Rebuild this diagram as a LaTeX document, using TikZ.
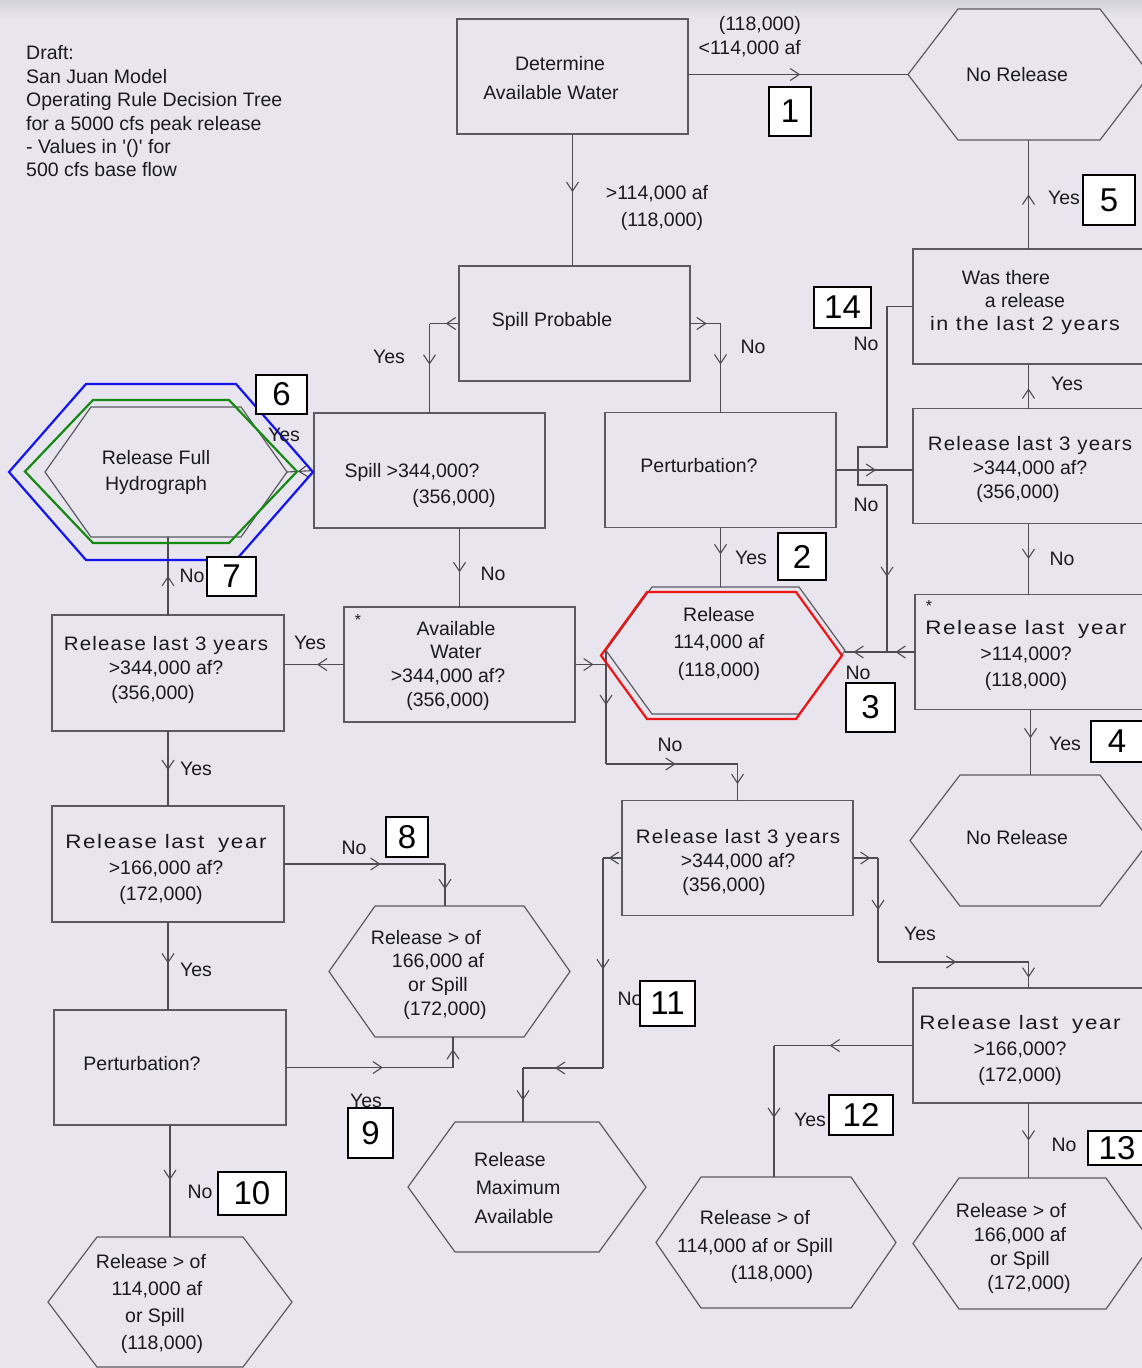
\documentclass[tikz,border=0pt]{standalone}
\usepackage{fontspec}
\setmainfont{Liberation Sans}
\newfontfamily\wideA[FakeStretch=1.05,LetterSpace=6]{Liberation Sans}
\newfontfamily\wideB[FakeStretch=1.15,LetterSpace=8]{Liberation Sans}
\newfontfamily\wideC[FakeStretch=1.1,LetterSpace=8]{Liberation Sans}
\usetikzlibrary{arrows.meta,decorations.markings,calc}

\definecolor{bgc}{HTML}{E8E5EE}
\definecolor{topc}{HTML}{D4D2DB}
\definecolor{linec}{HTML}{4C4C52}
\definecolor{boxc}{HTML}{5A5A60}
\definecolor{txtc}{HTML}{1A1A1E}
\definecolor{hblue}{HTML}{1414F0}
\definecolor{hgreen}{HTML}{148A14}
\definecolor{hred}{HTML}{F01414}

\tikzset{
  conn/.style={draw=linec, line width=1.1pt},
  mk/.style={postaction={decorate,decoration={markings,mark=at position #1 with {\arrow{Straight Barb[length=9pt,width=12pt]}}}}},
  box/.style={draw=boxc, line width=1.4pt, fill=bgc, minimum width=231pt, minimum height=115pt, inner sep=0pt, outer sep=0pt},
  hexnode/.style 2 args={minimum width=#1, minimum height=#2, inner sep=0pt, outer sep=0pt},
  hexline/.style={draw=boxc, line width=1.2pt, fill=bgc},
  txt/.style={text=txtc, align=center, inner sep=0pt, font=\fontsize{19.5}{24}\selectfont},
  lab/.style={text=txtc, inner sep=0pt, font=\fontsize{19.5}{24}\selectfont},
  numbox/.style={draw=black, line width=1.8pt, fill=white, inner sep=0pt, font=\fontsize{33}{33}\selectfont, text=black},
}
\newcommand\hexo[3][]{\path[hexline,#1] (#2.west) -- ([xshift=#3]#2.north west) -- ([xshift=-#3]#2.north east) -- (#2.east) -- ([xshift=-#3]#2.south east) -- ([xshift=#3]#2.south west) -- cycle;}

\begin{document}
\begin{tikzpicture}[x=1pt,y=-1pt]
\useasboundingbox (0,0) rectangle (1142,1368);
\fill[bgc] (0,0) rectangle (1142,1368);
\shade[top color=topc, bottom color=bgc] (0,0) rectangle (1142,18);

% ---------- boxes ----------
\node[box] (det)   at (572.5,76.5) {};
\node[box] (spill) at (574.5,323.5) {};
\node[box] (sp344) at (429.5,470.5) {};
\node[box] (pertU) at (720.5,470) {};
\node[box] (was)   at (1028.5,306.5) {};
\node[box] (rl3U)  at (1028.5,466) {};
\node[box] (rlyU)  at (1030.5,652) {};
\node[box] (avail) at (459.5,664.5) {};
\node[box, minimum width=232pt, minimum height=116pt] (rl3L) at (168,673) {};
\node[box, minimum width=232pt, minimum height=116pt] (rlyL) at (168,864) {};
\node[box, minimum width=232pt] (pertL) at (170,1067.5) {};
\node[box] (rl3M)  at (737.5,858) {};
\node[box] (rlyR)  at (1028.5,1045.5) {};

% ---------- hexagons ----------
\node[hexnode={242pt}{131pt}] (nrT)    at (1029,74.5) {};
\node[hexnode={240pt}{131pt}] (nrB)    at (1030,840.5) {};
\node[hexnode={239pt}{127pt}] (rel114) at (725.5,650.5) {};
\node[hexnode={241pt}{127pt}] (rel114R) at (721.5,655.5) {};
\node[hexnode={242pt}{130pt}] (rfh)    at (166,472) {};
\node[hexnode={272pt}{143pt}] (rfhG)   at (161,471.5) {};
\node[hexnode={304pt}{176pt}] (rfhB)   at (161,472) {};
\node[hexnode={241pt}{131pt}] (h166L)  at (449.5,971.5) {};
\node[hexnode={244pt}{130pt}] (h114L)  at (170,1302) {};
\node[hexnode={238pt}{130pt}] (hmax)   at (527,1187) {};
\node[hexnode={240pt}{131pt}] (h114M)  at (776,1242.5) {};
\node[hexnode={239pt}{131pt}] (h166R)  at (1032.5,1243.5) {};
\hexo{nrT}{50pt}
\hexo{nrB}{50pt}
\hexo{rel114}{46pt}
\hexo{rfh}{46pt}
\hexo{h166L}{46pt}
\hexo{h114L}{49pt}
\hexo{hmax}{47pt}
\hexo{h114M}{45pt}
\hexo{h166R}{46pt}

% ---------- connectors ----------
\draw[conn,mk=0.51] (det.east |- nrT.west) -- (nrT.west);
\draw[conn,mk=0.44] (det.south) -- (det.south |- spill.north);
\coordinate (c4) at (sp344.north |- spill.west);
\draw[conn,mk=0.45] (spill.west) -- (c4);
\draw[conn,mk=0.46] (c4) -- (sp344.north);
\coordinate (c5) at (pertU.north |- spill.east);
\draw[conn,mk=0.55] (spill.east) -- (c5);
\draw[conn,mk=0.46] (c5) -- (pertU.north);
\draw[conn,mk=0.6] (sp344.west) -- (rfh.east);
\draw[conn,mk=0.5] (rl3L.north) -- (rl3L.north |- rfh.south);
\draw[conn,mk=0.56] (avail.north |- sp344.south) -- (avail.north);
\draw[conn,mk=0.45] (avail.west) -- (avail.west -| rl3L.east);
\coordinate (j1) at (rel114.west |- avail.east);
\coordinate (y764) at (0,764);
\coordinate (j2) at (rel114.west |- y764);
\coordinate (j3) at (rl3M.north |- y764);
\draw[conn,mk=0.6] (avail.east) -- (j1);
\draw[conn,mk=0.48] (rel114.west) -- (j2);
\draw[conn,mk=0.53] (j2) -- (j3);
\draw[conn,mk=0.55] (j3) -- (rl3M.north);
\draw[conn,mk=0.45] (pertU.south) -- (pertU.south |- rel114.north);
\draw[conn,mk=0.52] (pertU.east) -- (pertU.east -| rl3U.west);
\draw[conn,mk=0.45] (rl3U.north) -- (was.south);
\draw[conn,mk=0.5] (was.north) -- (was.north |- nrT.south);
\coordinate (xk) at (887,0);
\coordinate (k1) at (xk |- was.west);
\coordinate (k2) at (887,447);
\coordinate (k3) at (858,447);
\coordinate (k4) at (858,485);
\coordinate (k5) at (887,485);
\coordinate (k6) at (xk |- rlyU.west);
\draw[conn] (was.west) -- (k1) -- (k2) -- (k3) -- (k4) -- (k5);
\draw[conn,mk=0.55] (k5) -- (k6);
\draw[conn,mk=0.28,mk=0.88] (rlyU.west) -- (rlyU.west -| rel114.east);
\draw[conn,mk=0.5] (rl3U.south) -- (rl3U.south |- rlyU.north);
\draw[conn,mk=0.44] (rlyU.south) -- (rlyU.south |- nrB.north);
\draw[conn,mk=0.52] (rl3L.south) -- (rl3L.south |- rlyL.north);
\coordinate (c20) at (445,864);
\draw[conn,mk=0.6] (rlyL.east) -- (c20);
\draw[conn,mk=0.6] (c20) -- (c20 |- h166L.north);
\draw[conn,mk=0.47] (rlyL.south) -- (rlyL.south |- pertL.north);
\coordinate (c22) at (453,1067.5);
\draw[conn,mk=0.58] (pertL.east) -- (c22);
\draw[conn,mk=0.6] (c22) -- (c22 |- h166L.south);
\draw[conn,mk=0.49] (pertL.south) -- (pertL.south |- h114L.north);
\coordinate (m1) at (603,858);
\coordinate (m2) at (603,1068);
\coordinate (m3) at (523,1068);
\draw[conn,mk=0.7] (rl3M.west) -- (m1);
\draw[conn,mk=0.53] (m1) -- (m2);
\draw[conn,mk=0.6] (m2) -- (m3);
\draw[conn,mk=0.6] (m3) -- (m3 |- hmax.north);
\coordinate (p1) at (878,858);
\coordinate (p2) at (878,962);
\coordinate (p3) at (rlyR.north |- p2);
\draw[conn,mk=0.7] (rl3M.east) -- (p1);
\draw[conn,mk=0.5] (p1) -- (p2);
\draw[conn,mk=0.52] (p2) -- (p3);
\draw[conn,mk=0.6] (p3) -- (rlyR.north);
\coordinate (q1) at (774,1045.5);
\draw[conn,mk=0.6] (rlyR.west) -- (q1);
\draw[conn,mk=0.55] (q1) -- (q1 |- h114M.north);
\draw[conn,mk=0.5] (rlyR.south) -- (rlyR.south |- h166R.north);

% ---------- coloured highlight outlines ----------
\hexo[draw=hred, line width=2.2pt, fill=none]{rel114R}{46pt}
\hexo[draw=hgreen, line width=2.2pt, fill=none]{rfhG}{68pt}
\hexo[draw=hblue, line width=2.2pt, fill=none]{rfhB}{77pt}

% ---------- texts ----------
\node[lab, anchor=north west, align=left, font=\fontsize{19.5}{23.4}\selectfont] (title) at (26,45.5)
  {Draft:\\San Juan Model\\Operating Rule Decision Tree\\for a 5000 cfs peak release\\- Values in \textquotesingle()\textquotesingle\ for\\500 cfs base flow};
\node[txt, font=\fontsize{19.5}{29}\selectfont] (detT) at (555.5,78) {\hspace*{9pt}Determine\\Available Water\hspace*{9pt}};
\node[txt] (spillT) at (552,321) {Spill Probable};
\node[txt, font=\fontsize{19.5}{26}\selectfont] (sp344T) at (433,485) {Spill >344,000?\hspace*{42pt}\\\hspace*{42pt}(356,000)};
\node[txt] (pertUT) at (699,466) {Perturbation?};
\node[txt, font=\fontsize{19.5}{23}\selectfont] (wasT) at (1025,302) {Was there\hspace*{38pt}\\a release\hspace*{22pt}\\{\wideC in the last 2 years}};
\node[txt, font=\fontsize{19.5}{24}\selectfont] (rl3UT) at (1030,469) {{\wideA Release last 3 years}\\>344,000 af?\hspace*{24pt}\\(356,000)\hspace*{24pt}};
\node[lab, font=\fontsize{16}{16}\selectfont] (astU) at (929,606) {*};
\node[txt, font=\fontsize{19.5}{26}\selectfont] (rlyUT) at (1026,655) {{\wideB Release last\hspace{6pt} year}\\>114,000?\\(118,000)};
\node[lab, font=\fontsize{16}{16}\selectfont] (astA) at (358,620) {*};
\node[txt, font=\fontsize{19.5}{23.7}\selectfont] (availT) at (448,665.5) {\hspace*{16pt}Available\\\hspace*{16pt}Water\\>344,000 af?\hspace*{24pt}\\(356,000)};
\node[txt, font=\fontsize{19.5}{24.5}\selectfont] (rl3LT) at (166,669.5) {{\wideA Release last 3 years}\\>344,000 af?\hspace*{46pt}\\(356,000)\hspace*{26pt}};
\node[txt, font=\fontsize{19.5}{26}\selectfont] (rlyLT) at (166,869) {{\wideB Release last\hspace{6pt} year}\\>166,000 af?\hspace*{12pt}\\(172,000)\hspace*{10pt}};
\node[txt] (pertLT) at (142,1064) {Perturbation?};
\node[txt, font=\fontsize{19.5}{24}\selectfont] (rl3MT) at (738,862) {{\wideA Release last 3 years}\\>344,000 af?\hspace*{44pt}\\(356,000)\hspace*{28pt}};
\node[txt, font=\fontsize{19.5}{26}\selectfont] (rlyRT) at (1020,1050) {{\wideB Release last\hspace{6pt} year}\\>166,000?\\(172,000)};
\node[txt] (nrTt) at (1017,75) {No Release};
\node[txt] (nrBt) at (1017,838) {No Release};
\node[txt, font=\fontsize{19.5}{27.5}\selectfont] (rel114T) at (719,643.5) {Release\\114,000 af\hspace*{22pt}\\(118,000)};
\node[txt, font=\fontsize{19.5}{26}\selectfont] (rfhT) at (156,472) {Release Full\\Hydrograph};
\node[txt, font=\fontsize{19.5}{23.7}\selectfont] (h166LT) at (438,974.5) {Release > of\hspace*{24pt}\\166,000 af\\or Spill\\\hspace*{14pt}(172,000)};
\node[txt, font=\fontsize{19.5}{27}\selectfont] (h114LT) at (155,1303.5) {Release > of\hspace*{8pt}\\\hspace*{4pt}114,000 af\\or Spill\hspace*{10pt}\\\hspace*{14pt}(118,000)};
\node[txt, font=\fontsize{19.5}{28.5}\selectfont] (hmaxT) at (514,1188) {Release\hspace*{8pt}\\\hspace*{8pt}Maximum\\Available};
\node[txt, font=\fontsize{19.5}{27.5}\selectfont] (h114MT) at (755,1247) {Release > of\\114,000 af or Spill\hspace*{12pt}\\\hspace*{34pt}(118,000)};
\node[txt, font=\fontsize{19.5}{24}\selectfont] (h166RT) at (1020,1248) {Release > of\hspace*{18pt}\\166,000 af\\or Spill\hspace*{6pt}\\\hspace*{18pt}(172,000)};
\node[lab, align=right, anchor=east] (lab1) at (801,37) {(118,000)\\<114,000 af};
\node[txt, font=\fontsize{19.5}{27}\selectfont] (lab2) at (657,208) {>114,000 af\\\hspace*{10pt}(118,000)};

% ---------- yes / no labels ----------
\node[lab] (l1)  at (389,357) {Yes};
\node[lab] (l2)  at (753,347) {No};
\node[lab] (l3)  at (866,344) {No};
\node[lab] (l4)  at (284,435) {Yes};
\node[lab] (l5)  at (866,505) {No};
\node[lab] (l6)  at (1067,384) {Yes};
\node[lab] (l7)  at (1064,198) {Yes};
\node[lab] (l8)  at (751,558) {Yes};
\node[lab] (l9)  at (858,673) {No};
\node[lab] (l10) at (1062,559) {No};
\node[lab] (l11) at (1065,744) {Yes};
\node[lab] (l12) at (192,576) {No};
\node[lab] (l13) at (493,574) {No};
\node[lab] (l14) at (310,643) {Yes};
\node[lab] (l15) at (670,745) {No};
\node[lab] (l16) at (196,769) {Yes};
\node[lab] (l17) at (354,848) {No};
\node[lab] (l18) at (196,970) {Yes};
\node[lab] (l19) at (366,1101) {Yes};
\node[lab] (l20) at (200,1192) {No};
\node[lab] (l21) at (630,999) {No};
\node[lab] (l22) at (920,934) {Yes};
\node[lab] (l23) at (810,1120) {Yes};
\node[lab] (l24) at (1064,1145) {No};

% ---------- number boxes ----------
\node[numbox, minimum width=42pt, minimum height=49pt] (n1)  at (790,111.5) {1};
\node[numbox, minimum width=48pt, minimum height=47pt] (n2)  at (802,556.5) {2};
\node[numbox, minimum width=49pt, minimum height=49pt] (n3)  at (870.5,707.5) {3};
\node[numbox, minimum width=52pt, minimum height=41pt] (n4)  at (1117,741.5) {4};
\node[numbox, minimum width=52pt, minimum height=50pt] (n5)  at (1109,200) {5};
\node[numbox, minimum width=51pt, minimum height=39pt] (n6)  at (281.5,394.5) {6};
\node[numbox, minimum width=49pt, minimum height=39pt] (n7)  at (231.5,576.5) {7};
\node[numbox, minimum width=42pt, minimum height=40pt] (n8)  at (407,837) {8};
\node[numbox, minimum width=45pt, minimum height=50pt] (n9)  at (370.5,1133) {9};
\node[numbox, minimum width=68pt, minimum height=43pt] (n10) at (252,1193.5) {10};
\node[numbox, minimum width=55pt, minimum height=45pt] (n11) at (667.5,1003.5) {11};
\node[numbox, minimum width=64pt, minimum height=40pt] (n12) at (861,1115) {12};
\node[numbox, minimum width=58pt, minimum height=34pt] (n13) at (1117,1148) {13};
\node[numbox, minimum width=57pt, minimum height=41pt] (n14) at (842.5,307.5) {14};
\end{tikzpicture}
\end{document}
